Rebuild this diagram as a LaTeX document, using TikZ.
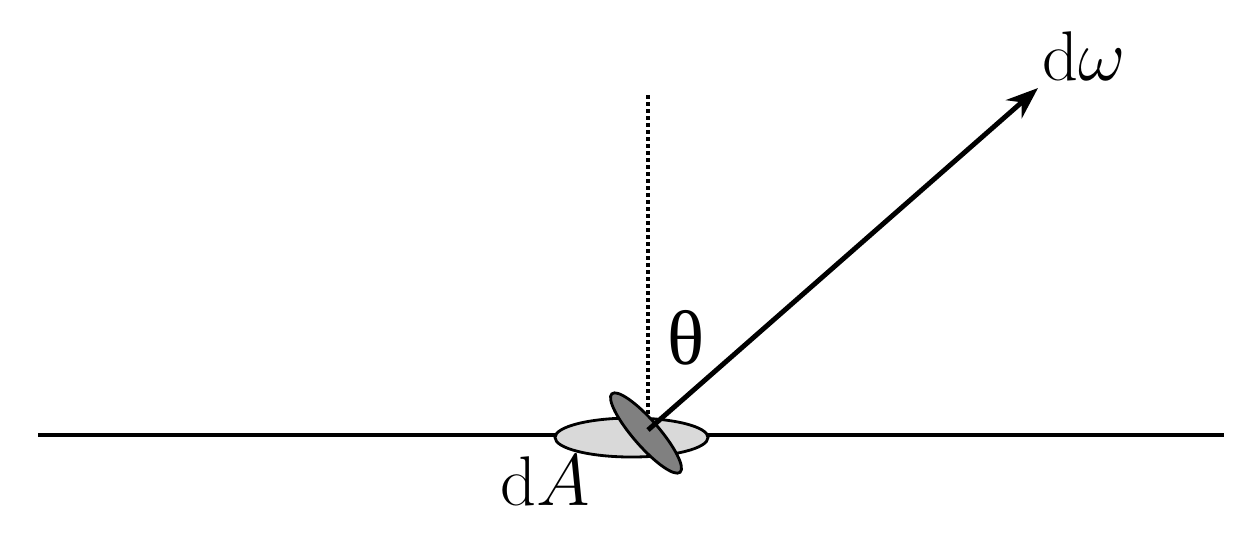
\documentclass[tikz,border=0pt]{standalone}
\usepackage{fontspec}
\usepackage{amsmath}
\usetikzlibrary{arrows.meta}
\newfontfamily\thetafont{Liberation Serif}

\begin{document}
\begin{tikzpicture}[x=0.01cm, y=-0.01cm]
    \useasboundingbox (0,0) rectangle (1246,538);

    \coordinate (o) at (648,430);
    \coordinate (n) at (648,95);
    \coordinate (tip) at (1038,88);
    \coordinate (left) at (38,435);
    \coordinate (right) at (1224,435);

    \draw[line width=1.1pt] (left) -- (right);
    \draw[line width=0.8pt, fill=black!15] (631.5,437.5) ellipse [x radius=76.5, y radius=19.5];
    \draw[line width=0.9pt, dash pattern=on 0.04cm off 0.03cm] (n) -- (648,424);
    \draw[line width=0.8pt, fill=black!50, rotate around={-49:(646,433)}] (646,433) ellipse [x radius=52, y radius=13];
    \draw[line width=1.4pt, -{Stealth[length=0.32cm, width=0.24cm]}] (o) -- (tip);

    \node at (1084,56) (domega) {\fontsize{20}{24}\selectfont $\mathrm{d}\omega$};
    \node at (686,338) (theta) {\fontsize{22}{26}\selectfont\thetafont θ};
    \node at (545,481) (dA) {\fontsize{20}{24}\selectfont $\mathrm{d}A$};
\end{tikzpicture}
\end{document}
